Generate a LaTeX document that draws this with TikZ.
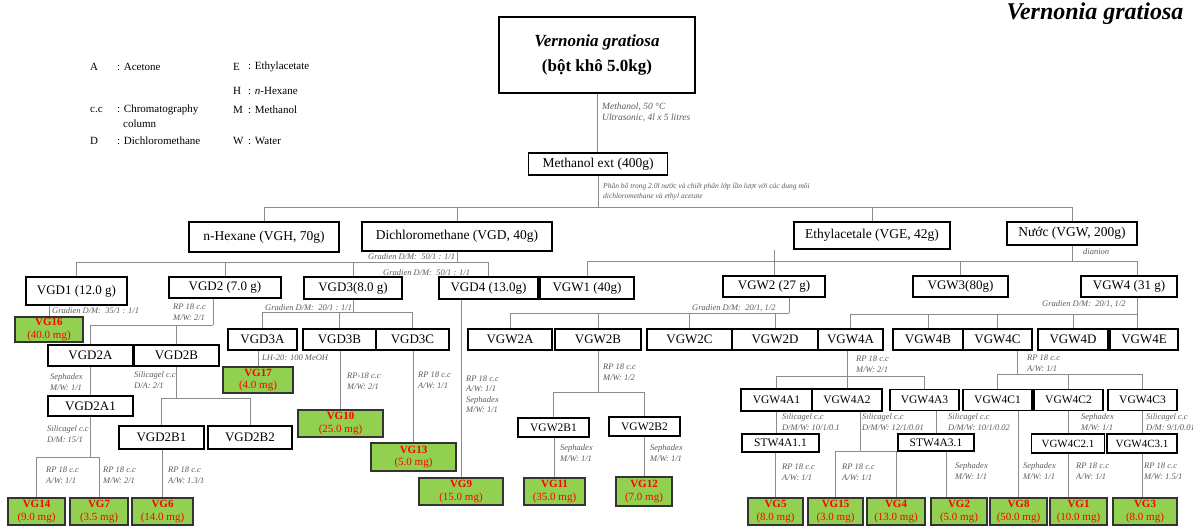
\documentclass[tikz,border=0pt]{standalone}
\usepackage{fontspec}
\setmainfont{Liberation Serif}
\definecolor{prodgreen}{HTML}{92D050}
\definecolor{prodred}{HTML}{FF0000}
\definecolor{notegray}{HTML}{5A5A5A}
\definecolor{linkgray}{HTML}{8C8C8C}

\begin{document}
\begin{tikzpicture}[x=1pt, y=-1pt,
    frac/.style={draw=black, line width=1.1pt, inner sep=0pt, align=center,
      font=\fontsize{13}{15}\selectfont},
    bigfrac/.style={frac, font=\fontsize{13.5}{15}\selectfont},
    subfrac/.style={frac, font=\fontsize{11.5}{13}\selectfont},
    prod/.style={draw=black!80, line width=1.2pt, fill=prodgreen, inner sep=0pt,
      align=center, text=prodred, font=\fontsize{11}{12.5}\selectfont},
    wh/.style 2 args={minimum width=#1pt, minimum height=#2pt},
    cond/.style={anchor=west, inner sep=0pt, align=left, text=notegray,
      font=\fontsize{8.5}{10.5}\selectfont\itshape},
    link/.style={draw=linkgray, line width=0.9pt},
    key/.style={anchor=west, inner sep=0pt, font=\fontsize{11}{13}\selectfont}]

    \useasboundingbox (0,0) rectangle (1193,526);

    % legend
    \node[key] (kA) at (90,67) {A};
    \node[key] (kAt) at (117,67) {: Acetone};
    \node[key] (kE) at (233,67) {E};
    \node[key] (kEt) at (248,67) {: Ethylacetate};
    \node[key] (kH) at (233,91) {H};
    \node[key] (kHt) at (248,91) {: \textit{n}-Hexane};
    \node[key] (kC) at (90,110) {c.c};
    \node[key] (kCt) at (117,110) {: Chromatography};
    \node[key] (kCt2) at (123,124) {column};
    \node[key] (kM) at (233,110) {M};
    \node[key] (kMt) at (248,110) {: Methanol};
    \node[key] (kD) at (90,141) {D};
    \node[key] (kDt) at (117,141) {: Dichloromethane};
    \node[key] (kW) at (233,141) {W};
    \node[key] (kWt) at (248,141) {: Water};

    \node[inner sep=0pt, font=\fontsize{24}{26}\selectfont\bfseries\itshape] (title)
        at (1095,14) {Vernonia gratiosa};

    % extraction
    \node[frac, wh={196}{76}, font=\fontsize{17}{25}\selectfont] (plant) at (597,55)
        {\textbf{\textit{Vernonia gratiosa}}\\\textbf{(bột khô 5.0kg)}};
    \node[bigfrac, wh={139}{22}] (mext) at (598,164) {Methanol ext (400g)};
    \node[cond, font=\fontsize{9.5}{11}\selectfont\itshape] (c0) at (602,112)
        {Methanol, 50 °C\\Ultrasonic, 4l x 5 litres};
    \node[cond, font=\fontsize{7.5}{10}\selectfont\itshape] (c1) at (603,192)
        {Phân bố trong 2.0l nước và chiết phân lớp lần lượt với các dung môi\\dichloromethane và ethyl acetate};

    \node[bigfrac, wh={150}{30}] (hex) at (264,237) {n-Hexane (VGH, 70g)};
    \node[bigfrac, wh={190}{29}] (dcm) at (457,236.5) {Dichloromethane (VGD, 40g)};
    \node[bigfrac, wh={156}{27}] (eth) at (872,235.5) {Ethylacetale (VGE, 42g)};
    \node[bigfrac, wh={130}{23}] (nuoc) at (1072,233.5) {Nước (VGW, 200g)};

    \coordinate (bus1) at (0,207);
    \draw[link] (plant.south) -- (plant.south |- mext.north);
    \draw[link] (mext.south) -- (mext.south |- bus1);
    \draw[link] (hex.north) |- (bus1 -| nuoc.north) -- (nuoc.north);
    \draw[link] (dcm.north) -- (dcm.north |- bus1);
    \draw[link] (eth.north) -- (eth.north |- bus1);

    % fractions
    \node[frac, wh={101}{28}] (vgd1) at (76.5,291) {VGD1 (12.0 g)};
    \node[frac, wh={112}{21}] (vgd2) at (225,287.5) {VGD2 (7.0 g)};
    \node[frac, wh={98}{22}] (vgd3) at (353,288) {VGD3(8.0 g)};
    \node[frac, wh={99}{22}] (vgd4) at (488.5,288) {VGD4 (13.0g)};
    \node[frac, wh={94}{22}] (vgw1) at (587,288) {VGW1 (40g)};
    \node[frac, wh={102}{21}] (vgw2) at (774,286.5) {VGW2 (27 g)};
    \node[frac, wh={95}{21}] (vgw3) at (960.5,286.5) {VGW3(80g)};
    \node[frac, wh={96}{21}] (vgw4) at (1129,286.5) {VGW4 (31 g)};

    \node[cond] (c2) at (368,257) {Gradien D/M:\ \ 50/1 : 1/1};
    \node[cond] (c3) at (383,273) {Gradien D/M:\ \ 50/1 : 1/1};
    \node[cond] (c4) at (1083,252) {dianion};

    \coordinate (bus2) at (0,262);
    \coordinate (bus3) at (0,261);
    \coordinate (w4top) at ([xshift=8]vgw4.north);
    \draw[link] (dcm.south) -- (dcm.south |- bus2);
    \draw[link] (vgd1.north) |- (bus2 -| vgd4.north) -- (vgd4.north);
    \draw[link] (vgd2.north) -- (vgd2.north |- bus2);
    \draw[link] (vgd3.north) -- (vgd3.north |- bus2);
    \draw[link] (vgw1.north) |- (bus3 -| w4top) -- (w4top);
    \draw[link] (eth.south -| vgw2.north) -- (vgw2.north);
    \draw[link] (vgw3.north) -- (vgw3.north |- bus3);
    \draw[link] (nuoc.south) -- (nuoc.south |- bus3);

    % sub-fractions
    \node[frac, wh={69}{21}] (vgd3a) at (262.5,339.5) {VGD3A};
    \node[frac, wh={73}{21}] (vgd3b) at (339.5,339.5) {VGD3B};
    \node[frac, wh={73}{21}] (vgd3c) at (412.5,339.5) {VGD3C};
    \node[frac, wh={84}{21}] (vgw2a) at (510,339.5) {VGW2A};
    \node[frac, wh={86}{21}] (vgw2b) at (598,339.5) {VGW2B};
    \node[frac, wh={85}{21}] (vgw2c) at (689.5,339.5) {VGW2C};
    \node[frac, wh={86}{21}] (vgw2d) at (775,339.5) {VGW2D};
    \node[frac, wh={65}{21}] (vgw4a) at (850.5,339.5) {VGW4A};
    \node[frac, wh={70}{21}] (vgw4b) at (928,339.5) {VGW4B};
    \node[frac, wh={69}{21}] (vgw4c) at (997.5,339.5) {VGW4C};
    \node[frac, wh={70}{21}] (vgw4d) at (1073,339.5) {VGW4D};
    \node[frac, wh={68}{21}] (vgw4e) at (1144,339.5) {VGW4E};

    \node[cond] (c5) at (52,311) {Gradien D/M:\ \ 35/1 : 1/1};
    \node[cond] (c6) at (173,312) {RP 18 c.c\\M/W: 2/1};
    \node[cond] (c7) at (265,308) {Gradien D/M:\ \ 20/1 : 1/1};
    \node[cond] (c8) at (692,308) {Gradien D/M:\ \ 20/1, 1/2};
    \node[cond] (c9) at (1042,304) {Gradien D/M:\ \ 20/1, 1/2};

    \coordinate (bus5) at (0,312);
    \coordinate (bus6) at (0,313);
    \coordinate (bus7) at (0,314);
    \coordinate (w2out) at ([xshift=15]vgw2.south);
    \coordinate (w4out) at ([xshift=8]vgw4.south);
    \draw[link] (vgd3.south) -- (vgd3.south |- bus5);
    \draw[link] (vgd3a.north) |- (bus5 -| vgd3c.north) -- (vgd3c.north);
    \draw[link] (vgd3b.north) -- (vgd3b.north |- bus5);
    \draw[link] (w2out) -- (w2out |- bus6);
    \draw[link] (vgw2a.north) |- (w2out |- bus6);
    \draw[link] (vgw2b.north) -- (vgw2b.north |- bus6);
    \draw[link] (vgw2c.north) -- (vgw2c.north |- bus6);
    \draw[link] (vgw2d.north) -- (vgw2d.north |- bus6);
    \draw[link] (w4out) -- (w4out |- vgw4e.north);
    \draw[link] (vgw4a.north) |- (w4out |- bus7);
    \draw[link] (vgw4b.north) -- (vgw4b.north |- bus7);
    \draw[link] (vgw4c.north) -- (vgw4c.north |- bus7);
    \draw[link] (vgw4d.north) -- (vgw4d.north |- bus7);

    % VGD branch
    \node[prod, wh={68}{25}] (vg16) at (49,329.5) {\textbf{VG16}\\(40.0 mg)};
    \node[frac, wh={85}{21}] (vgd2a) at (90.5,355.5) {VGD2A};
    \node[frac, wh={85}{21}] (vgd2b) at (176.5,355.5) {VGD2B};
    \node[frac, wh={85}{20}] (vgd2a1) at (90.5,406) {VGD2A1};
    \node[frac, wh={85}{23}] (vgd2b1) at (161.5,437.5) {VGD2B1};
    \node[frac, wh={84}{23}] (vgd2b2) at (250,437.5) {VGD2B2};
    \node[prod, wh={57}{27}] (vg14) at (36.5,511.5) {\textbf{VG14}\\(9.0 mg)};
    \node[prod, wh={58}{27}] (vg7) at (99,511.5) {\textbf{VG7}\\(3.5 mg)};
    \node[prod, wh={61}{27}] (vg6) at (162.5,511.5) {\textbf{VG6}\\(14.0 mg)};
    \node[prod, wh={70}{26}] (vg17) at (258,380) {\textbf{VG17}\\(4.0 mg)};
    \node[prod, wh={85}{27}] (vg10) at (340.5,423.5) {\textbf{VG10}\\(25.0 mg)};
    \node[prod, wh={85}{28}] (vg13) at (413.5,457) {\textbf{VG13}\\(5.0 mg)};
    \node[prod, wh={84}{27}] (vg9) at (461,491.5) {\textbf{VG9}\\(15.0 mg)};

    \node[cond] (c10) at (50,382) {Sephadex\\M/W: 1/1};
    \node[cond] (c11) at (134,380) {Silicagel c.c\\D/A: 2/1};
    \node[cond] (c12) at (47,434) {Silicagel c.c\\D/M: 15/1};
    \node[cond] (c13) at (46,475) {RP 18 c.c\\A/W: 1/1};
    \node[cond] (c14) at (103,475) {RP 18 c.c\\M/W: 2/1};
    \node[cond] (c15) at (168,475) {RP 18 c.c\\A/W: 1.3/1};
    \node[cond] (c16) at (262,358) {LH-20: 100 MeOH};
    \node[cond] (c17) at (347,381) {RP-18 c.c\\M/W: 2/1};
    \node[cond] (c18) at (418,380) {RP 18 c.c\\A/W: 1/1};
    \node[cond] (c19) at (466,394) {RP 18 c.c\\A/W: 1/1\\Sephadex\\M/W: 1/1};

    \coordinate (bus4) at (0,325);
    \coordinate (bus8) at (0,398);
    \coordinate (bus9) at (0,457);
    \coordinate (d2out) at ([xshift=-12]vgd2.south);
    \draw[link] (d2out) -- (d2out |- bus4);
    \draw[link] (vgd2a.north) |- (d2out |- bus4);
    \draw[link] (vgd2b.north) -- (vgd2b.north |- bus4);
    \draw[link] (vgd1.south -| vg16.north) -- (vg16.north);
    \draw[link] (vgd2a.south) -- (vgd2a1.north);
    \draw[link] (vgd2b.south) -- (vgd2b.south |- bus8);
    \draw[link] (vgd2b1.north) |- (bus8 -| vgd2b2.north) -- (vgd2b2.north);
    \draw[link] (vgd2a1.south) -- (vgd2a1.south |- bus9);
    \draw[link] (vg14.north) |- (bus9 -| vg7.north) -- (vg7.north);
    \draw[link] (vgd2b1.south -| vg6.north) -- (vg6.north);
    \draw[link] (vgd3a.south -| vg17.north) -- (vg17.north);
    \draw[link] (vgd3b.south -| vg10.north) -- (vg10.north);
    \draw[link] (vgd3c.south -| vg13.north) -- (vg13.north);
    \draw[link] (vgd4.south -| vg9.north) -- (vg9.north);

    % VGW2 branch
    \node[subfrac, wh={71}{19}] (vgw2b1) at (553.5,427.5) {VGW2B1};
    \node[subfrac, wh={71}{19}] (vgw2b2) at (644.5,426.5) {VGW2B2};
    \node[prod, wh={61}{27}] (vg11) at (554.5,491.5) {\textbf{VG11}\\(35.0 mg)};
    \node[prod, wh={56}{29}] (vg12) at (644,491.5) {\textbf{VG12}\\(7.0 mg)};
    \node[cond] (c20) at (603,372) {RP 18 c.c\\M/W: 1/2};
    \node[cond] (c21) at (560,453) {Sephadex\\M/W: 1/1};
    \node[cond] (c22) at (650,453) {Sephadex\\M/W: 1/1};

    \coordinate (bus10) at (0,392);
    \draw[link] (vgw2b.south) -- (vgw2b.south |- bus10);
    \draw[link] (vgw2b1.north) |- (bus10 -| vgw2b2.north) -- (vgw2b2.north);
    \draw[link] (vgw2b1.south -| vg11.north) -- (vg11.north);
    \draw[link] (vgw2b2.south -| vg12.north) -- (vg12.north);

    % VGW4 branch
    \node[subfrac, wh={71}{22}] (vgw4a1) at (776.5,400) {VGW4A1};
    \node[subfrac, wh={70}{22}] (vgw4a2) at (847,400) {VGW4A2};
    \node[subfrac, wh={69}{21}] (vgw4a3) at (924.5,400) {VGW4A3};
    \node[subfrac, wh={69}{21}] (vgw4c1) at (997.5,400) {VGW4C1};
    \node[subfrac, wh={69}{21}] (vgw4c2) at (1068.5,400) {VGW4C2};
    \node[subfrac, wh={69}{21}] (vgw4c3) at (1142.5,400) {VGW4C3};
    \node[subfrac, wh={77}{18}] (stw4a11) at (780.5,443) {STW4A1.1};
    \node[subfrac, wh={76}{17}] (stw4a31) at (936,442.5) {STW4A3.1};
    \node[frac, wh={73}{19}, font=\fontsize{11}{13}\selectfont] (vgw4c21) at (1068,443.5) {VGW4C2.1};
    \node[frac, wh={70}{19}, font=\fontsize{11}{13}\selectfont] (vgw4c31) at (1142,443.5) {VGW4C3.1};
    \node[prod, wh={55}{27}] (vg5) at (775.5,511.5) {\textbf{VG5}\\(8.0 mg)};
    \node[prod, wh={55}{27}] (vg15) at (835.5,511.5) {\textbf{VG15}\\(3.0 mg)};
    \node[prod, wh={58}{27}] (vg4) at (896,511.5) {\textbf{VG4}\\(13.0 mg)};
    \node[prod, wh={56}{27}] (vg2) at (959,511.5) {\textbf{VG2}\\(5.0 mg)};
    \node[prod, wh={57}{27}] (vg8) at (1018.5,511.5) {\textbf{VG8}\\(50.0 mg)};
    \node[prod, wh={57}{27}] (vg1) at (1078.5,511.5) {\textbf{VG1}\\(10.0 mg)};
    \node[prod, wh={64}{27}] (vg3) at (1145,511.5) {\textbf{VG3}\\(8.0 mg)};

    \node[cond] (c23) at (856,364) {RP 18 c.c\\M/W: 2/1};
    \node[cond] (c24) at (1027,363) {RP 18 c.c\\A/W: 1/1};
    \node[cond] (c25) at (782,422) {Silicagel c.c\\D/M/W: 10/1/0.1};
    \node[cond] (c26) at (862,422) {Silicagel c.c\\D/M/W: 12/1/0.01};
    \node[cond] (c27) at (948,422) {Silicagel c.c\\D/M/W: 10/1/0.02};
    \node[cond] (c28) at (1081,422) {Sephadex\\M/W: 1/1};
    \node[cond] (c29) at (1146,422) {Silicagel c.c\\D/M: 9/1/0.01};
    \node[cond] (c30) at (782,472) {RP 18 c.c\\A/W: 1/1};
    \node[cond] (c31) at (842,472) {RP 18 c.c\\A/W: 1/1};
    \node[cond] (c32) at (955,471) {Sephadex\\M/W: 1/1};
    \node[cond] (c33) at (1023,471) {Sephadex\\M/W: 1/1};
    \node[cond] (c34) at (1076,471) {RP 18 c.c\\A/W: 1/1};
    \node[cond] (c35) at (1144,471) {RP 18 c.c\\M/W: 1.5/1};

    \coordinate (bus11) at (0,376);
    \coordinate (bus12) at (0,374);
    \coordinate (bus13) at (0,451);
    \coordinate (w4cout) at ([xshift=20]vgw4c.south);
    \coordinate (a2out) at ([xshift=13]vgw4a2.south);
    \coordinate (s31out) at ([xshift=10]stw4a31.south);
    \draw[link] (vgw4a.south -| vgw4a2.north) -- (vgw4a2.north);
    \draw[link] (vgw4a1.north) |- (bus11 -| vgw4a3.north) -- (vgw4a3.north);
    \draw[link] (w4cout) -- (w4cout |- bus12);
    \draw[link] (vgw4c1.north) |- (bus12 -| vgw4c3.north) -- (vgw4c3.north);
    \draw[link] (vgw4c2.north) -- (vgw4c2.north |- bus12);
    \draw[link] (vgw4a1.south) -- (vgw4a1.south |- stw4a11.north);
    \draw[link] (stw4a11.south -| vg5.north) -- (vg5.north);
    \draw[link] (a2out) -- (a2out |- bus13);
    \draw[link] (vg15.north) |- (bus13 -| vg4.north) -- (vg4.north);
    \draw[link] (vgw4a3.south -| stw4a31.north) -- (stw4a31.north);
    \draw[link] (s31out) -- (s31out |- vg2.north);
    \draw[link] (vgw4c1.south -| vg8.north) -- (vg8.north);
    \draw[link] (vgw4c2.south) -- (vgw4c2.south |- vgw4c21.north);
    \draw[link] (vgw4c2.south |- vgw4c21.south) -- (vgw4c2.south |- vg1.north);
    \draw[link] (vgw4c3.south) -- (vgw4c3.south |- vgw4c31.north);
    \draw[link] (vgw4c31.south) -- (vgw4c31.south |- vg3.north);
\end{tikzpicture}
\end{document}
